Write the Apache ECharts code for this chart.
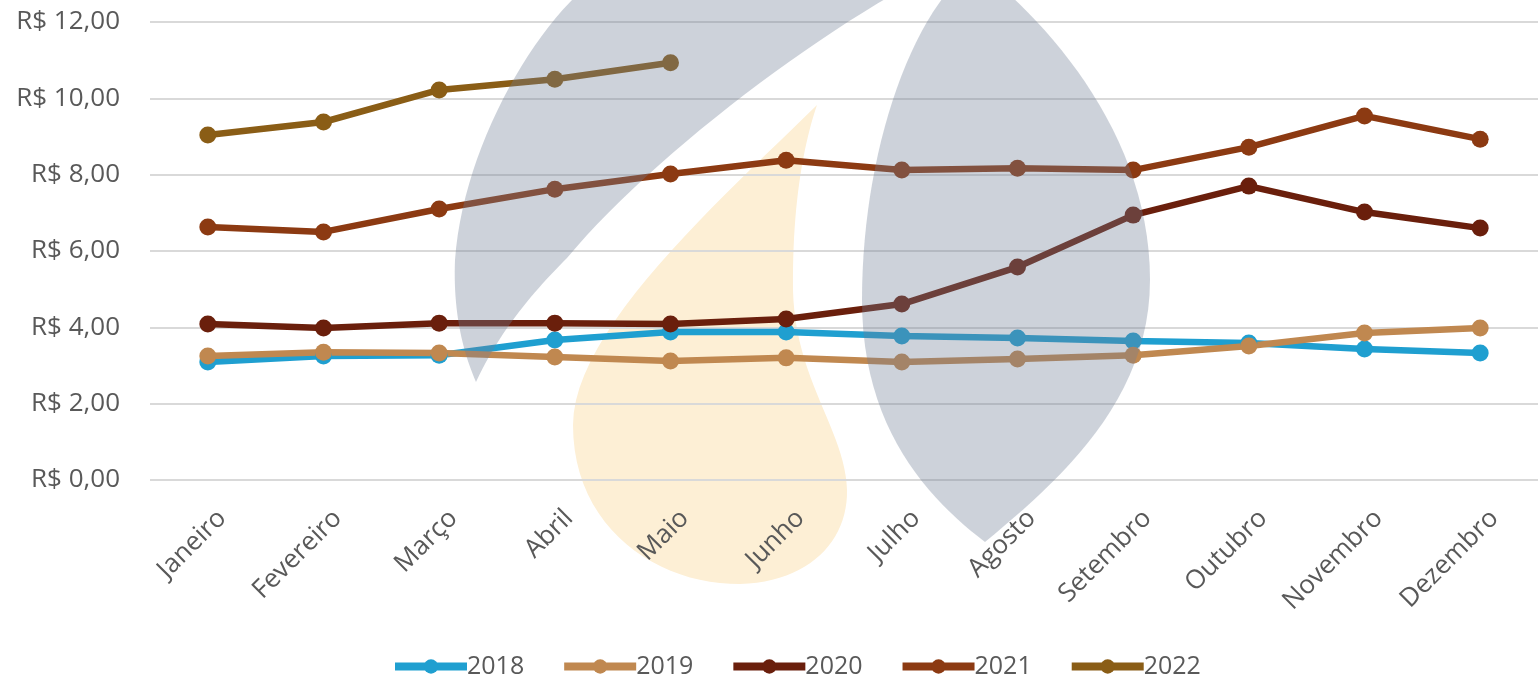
<!DOCTYPE html>
<html>
<head>
<meta charset="utf-8">
<script src="https://cdn.jsdelivr.net/npm/echarts@6/dist/echarts.min.js"></script>
<style>html,body{margin:0;padding:0;background:#fff}#c{width:1538px;height:684px}</style>
</head>
<body>
<div id="c"></div>
<script>
const categories = ['Janeiro','Fevereiro','Março','Abril','Maio','Junho','Julho','Agosto','Setembro','Outubro','Novembro','Dezembro'];
const years = ['2018','2019','2020','2021','2022'];
const s2018 = [3.09,3.25,3.27,3.67,3.88,3.88,3.77,3.72,3.64,3.59,3.43,3.33];
const s2019 = [3.25,3.35,3.33,3.22,3.12,3.20,3.09,3.17,3.27,3.51,3.85,3.98];
const s2020 = [4.09,3.98,4.11,4.11,4.09,4.22,4.61,5.58,6.94,7.70,7.02,6.60];
const s2021 = [6.63,6.50,7.10,7.62,8.02,8.38,8.12,8.17,8.12,8.72,9.54,8.93];
const s2022 = [9.04,9.38,10.22,10.50,10.93];
const colors = ['#1f9fd0','#c08850','#6a1f0c','#8c3a12','#8a5d16'];

// decorative background logo: start point + cubic segments [c1x,c1y,c2x,c2y,x,y] (pixel space)
const leftLeaf = {start:[577,-5], segs:[[520,50,462,160,455,260],[453,310,462,350,476,382],[500,330,535,290,567,258],[640,170,780,60,892,-5]]};
const rightLeaf = {start:[945,-5], segs:[[895,60,862,180,862,300],[862,430,930,500,985,542],[1060,480,1150,400,1150,280],[1150,160,1080,60,1010,-5]]};
const drop = {start:[817,105], segs:[[720,200,573,330,573,425],[573,530,660,585,740,584],[810,582,848,540,847,490],[845,430,795,380,793,290],[792,200,805,140,817,105]]};

function sample(shape){
  const pts=[shape.start.slice()];
  let [x0,y0]=shape.start;
  shape.segs.forEach(s=>{
    const [c1x,c1y,c2x,c2y,x,y]=s;
    for(let k=1;k<=24;k++){
      const t=k/24,u=1-t;
      pts.push([u*u*u*x0+3*u*u*t*c1x+3*u*t*t*c2x+t*t*t*x, u*u*u*y0+3*u*u*t*c1y+3*u*t*t*c2y+t*t*t*y]);
    }
    x0=x;y0=y;
  });
  return pts;
}

const allSeries = [s2018,s2019,s2020,s2021,s2022];
const FONT = 'Open Sans';
const chart = echarts.init(document.getElementById('c'));
chart.setOption({
  animation:false,
  color: colors,
  grid:{left:150, top:22, width:1392, bottom:204, containLabel:false},
  xAxis:{
    type:'category', data:categories, boundaryGap:true,
    axisLine:{show:false}, axisTick:{show:false},
    axisLabel:{rotate:45, fontSize:26, color:'#595959', fontFamily:FONT, margin:20, interval:0,
      verticalAlign:'top', lineHeight:40}
  },
  yAxis:{
    type:'value', min:0, max:12, interval:2,
    axisLine:{show:false}, axisTick:{show:false},
    splitLine:{lineStyle:{color:'#d9d9d9', width:2}},
    axisLabel:{fontSize:26, color:'#595959', fontFamily:FONT, margin:30,
      formatter:v=>'R$ '+v.toFixed(2).replace('.',',')}
  },
  legend:{
    bottom:0, left:386, itemWidth:72, itemHeight:18, itemGap:36,
    lineStyle:{width:8},
    textStyle:{fontSize:25, color:'#595959', fontFamily:FONT, padding:[0,0,0,-5]},
    data: years
  },
  series: years.map((y,i)=>({
    name:y, type:'line', data:allSeries[i],
    symbol:'circle', symbolSize:17,
    lineStyle:{width:6.5, color:colors[i]},
    itemStyle:{color:colors[i]}, z:2
  })),
  graphic:[
    {type:'polygon', z:-10, silent:true, shape:{points:sample(drop)}, style:{fill:'#fdefd5'}},
    {type:'polygon', z:100, silent:true, shape:{points:sample(leftLeaf)}, style:{fill:'#707e95', opacity:0.35}},
    {type:'polygon', z:100, silent:true, shape:{points:sample(rightLeaf)}, style:{fill:'#707e95', opacity:0.35}}
  ]
});
</script>
</body>
</html>
